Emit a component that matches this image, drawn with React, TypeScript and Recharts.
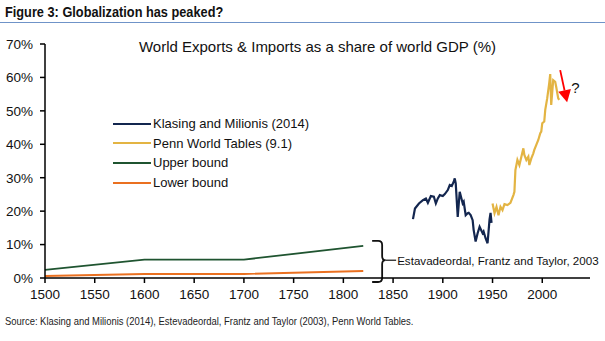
import React from "react";
import { LineChart, Line, XAxis, YAxis, ReferenceLine } from "recharts";

// Klasing and Milionis (2014)
const klasingYears = [
  1870, 1872, 1876, 1880, 1883, 1885, 1888, 1891, 1893, 1895, 1897, 1900, 1902, 1905,
  1907, 1909, 1911, 1912, 1913, 1915, 1917, 1920, 1921, 1923, 1925, 1926, 1928, 1930,
  1931, 1933, 1935, 1937, 1940, 1941, 1943, 1945, 1947, 1948, 1949,
];
const klasingValues = [
  17.6, 20.8, 22.3, 23.3, 23.8, 22.5, 24.5, 24.3, 22.3, 23.8, 24.8, 24.5, 25.1, 26.3,
  27.8, 27.5, 28.8, 29.8, 28.3, 18.3, 25.8, 22.3, 22.8, 18.8, 19.4, 19.5, 18.8, 17.3,
  14.4, 10.9, 13.4, 15.3, 13.4, 13.9, 11.9, 10.4, 17.5, 19.5, 16.5,
];

// Penn World Tables (9.1)
const pennYears = [
  1950, 1952, 1954, 1956, 1958, 1960, 1962, 1965, 1968, 1971, 1972, 1973, 1975, 1977,
  1979, 1981, 1982, 1984, 1986, 1987, 1989, 1991, 1992, 1994, 1996, 1998, 1999, 2000,
  2002, 2003, 2005, 2007, 2008, 2009, 2011, 2013, 2014, 2016, 2017,
];
const pennValues = [
  22.3, 19.4, 21.3, 18.8, 21.3, 20.3, 22.1, 21.8, 22.5, 24.8, 25.8, 32.3, 35.3, 33.8,
  36.3, 38.8, 36.8, 35.3, 36.3, 33.8, 35.8, 37.3, 38.3, 39.8, 41.3, 43.3, 43.8, 46.3,
  46.8, 50.3, 53.8, 58.3, 61.0, 51.8, 59.2, 58.7, 57.2, 53.8, 53.3,
];

// Estevadeordal, Frantz and Taylor (2003)
const boundYears = [1500, 1600, 1700, 1820];
const upperValues = [2.4, 5.5, 5.5, 9.6];
const lowerValues = [0.6, 1.2, 1.2, 2.1];

const xTicks = [1500, 1550, 1600, 1650, 1700, 1750, 1800, 1850, 1900, 1950, 2000];
const yTicks = [0, 10, 20, 30, 40, 50, 60, 70];

const series = [
  { name: "Klasing and Milionis (2014)", color: "#13264f", width: 2.2 },
  { name: "Penn World Tables (9.1)", color: "#e3b443", width: 2.2 },
  { name: "Upper bound", color: "#1f5430", width: 1.8 },
  { name: "Lower bound", color: "#ea7020", width: 1.8 },
];

const toRows = (years: number[], values: number[]) =>
  years.map((year, i) => ({ year, value: values[i] }));

const seriesData = [
  toRows(klasingYears, klasingValues),
  toRows(pennYears, pennValues),
  toRows(boundYears, upperValues),
  toRows(boundYears, lowerValues),
];

const FONT = "'Liberation Sans', Arial, sans-serif";

// curly brace "}" next to the bound series
const Brace = (props: any) => {
  const { x1, y1, y2 } = props;
  const top = Math.min(y1, y2);
  const bot = Math.max(y1, y2);
  const mid = top + (bot - top) * 0.47;
  const x = x1;
  return (
    <g>
      <path
        d={`M ${x - 10} ${top} L ${x - 4} ${top} Q ${x} ${top} ${x} ${top + 4} L ${x} ${mid - 4} Q ${x} ${mid} ${x + 3.5} ${mid} Q ${x} ${mid} ${x} ${mid + 4} L ${x} ${bot - 4} Q ${x} ${bot} ${x - 4} ${bot} L ${x - 10} ${bot}`}
        fill="none"
        stroke="#111"
        strokeWidth={1.8}
      />
      <line x1={x + 3.5} y1={mid} x2={x + 14} y2={mid} stroke="#111" strokeWidth={1.2} />
      <text x={x + 15} y={mid + 4.5} fontSize={11.6} fontFamily={FONT} fill="#111">
        Estavadeordal, Frantz and Taylor, 2003
      </text>
    </g>
  );
};

// red arrow with question mark
const Arrow = (props: any) => {
  const { x1, y1, x2, y2 } = props;
  const ang = Math.atan2(y2 - y1, x2 - x1);
  const len = 12;
  const w = 6.5;
  const bx = x2 - len * Math.cos(ang);
  const by = y2 - len * Math.sin(ang);
  const px = -Math.sin(ang) * w;
  const py = Math.cos(ang) * w;
  return (
    <g>
      <line x1={x1} y1={y1} x2={bx} y2={by} stroke="#ff0000" strokeWidth={1.8} />
      <polygon points={`${x2},${y2} ${bx + px},${by + py} ${bx - px},${by - py}`} fill="#ff0000" />
      <text x={x2 + 4} y={y1 + 23} fontSize={15} fontFamily={FONT} fill="#111">
        ?
      </text>
    </g>
  );
};

export default function App() {
  return (
    <div
      style={{
        position: "absolute",
        left: 0,
        top: 0,
        width: 605,
        height: 341,
        background: "#fff",
        fontFamily: FONT,
        overflow: "hidden",
      }}
    >
      <div
        style={{
          position: "absolute",
          left: 5,
          top: 3,
          fontWeight: "bold",
          fontSize: 15,
          color: "#111",
          whiteSpace: "nowrap",
          transform: "scaleX(0.85)",
          transformOrigin: "left top",
        }}
      >
        Figure 3: Globalization has peaked?
      </div>
      <div
        style={{
          position: "absolute",
          left: 0,
          top: 22,
          width: 605,
          height: 1,
          background: "#6f93c8",
        }}
      />
      <div
        style={{
          position: "absolute",
          left: 0,
          width: 635,
          top: 38,
          textAlign: "center",
          fontSize: 15,
          color: "#111",
        }}
      >
        World Exports &amp; Imports as a share of world GDP (%)
      </div>

      {/* legend */}
      <div style={{ position: "absolute", left: 113, top: 114, fontSize: 13, color: "#111" }}>
        {series.map((s) => (
          <div key={s.name} style={{ display: "flex", alignItems: "center", height: 19.6 }}>
            <span
              style={{
                display: "inline-block",
                width: 38,
                height: 2,
                background: s.color,
                marginRight: 2,
              }}
            />
            <span>{s.name}</span>
          </div>
        ))}
      </div>

      <LineChart
        width={605}
        height={341}
        margin={{ top: 44, right: 15, left: 0, bottom: 33 }}
        style={{ position: "absolute", left: 0, top: 0 }}
      >
        <XAxis
          dataKey="year"
          type="number"
          domain={[1500, 2048]}
          ticks={xTicks}
          allowDuplicatedCategory={false}
          height={30}
          tickSize={5}
          tickMargin={6}
          stroke="#000"
          strokeWidth={1.5}
          tick={{ fill: "#111", fontSize: 13.5, fontFamily: FONT }}
        />
        <YAxis
          type="number"
          domain={[0, 70]}
          ticks={yTicks}
          width={45}
          tickSize={5}
          tickMargin={7}
          stroke="#000"
          strokeWidth={1.5}
          tickFormatter={(v: number) => `${v}%`}
          tick={{ fill: "#111", fontSize: 13.5, fontFamily: FONT }}
        />
        {series.map((s, i) => (
          <Line
            key={s.name}
            data={seriesData[i]}
            dataKey="value"
            name={s.name}
            stroke={s.color}
            strokeWidth={s.width}
            dot={false}
            isAnimationActive={false}
          />
        ))}
        <ReferenceLine
          segment={[
            { x: 1839, y: 11.1 },
            { x: 1839, y: -1.2 },
          ]}
          shape={<Brace />}
          ifOverflow="visible"
        />
        <ReferenceLine
          segment={[
            { x: 2018, y: 62.2 },
            { x: 2025, y: 52.6 },
          ]}
          shape={<Arrow />}
          ifOverflow="visible"
        />
      </LineChart>

      <div
        style={{
          position: "absolute",
          left: 5,
          top: 315,
          fontSize: 11.5,
          color: "#222",
          whiteSpace: "nowrap",
          transform: "scaleX(0.82)",
          transformOrigin: "left top",
        }}
      >
        Source: Klasing and Milionis (2014), Estevadeordal, Frantz and Taylor (2003), Penn World
        Tables.
      </div>
    </div>
  );
}
